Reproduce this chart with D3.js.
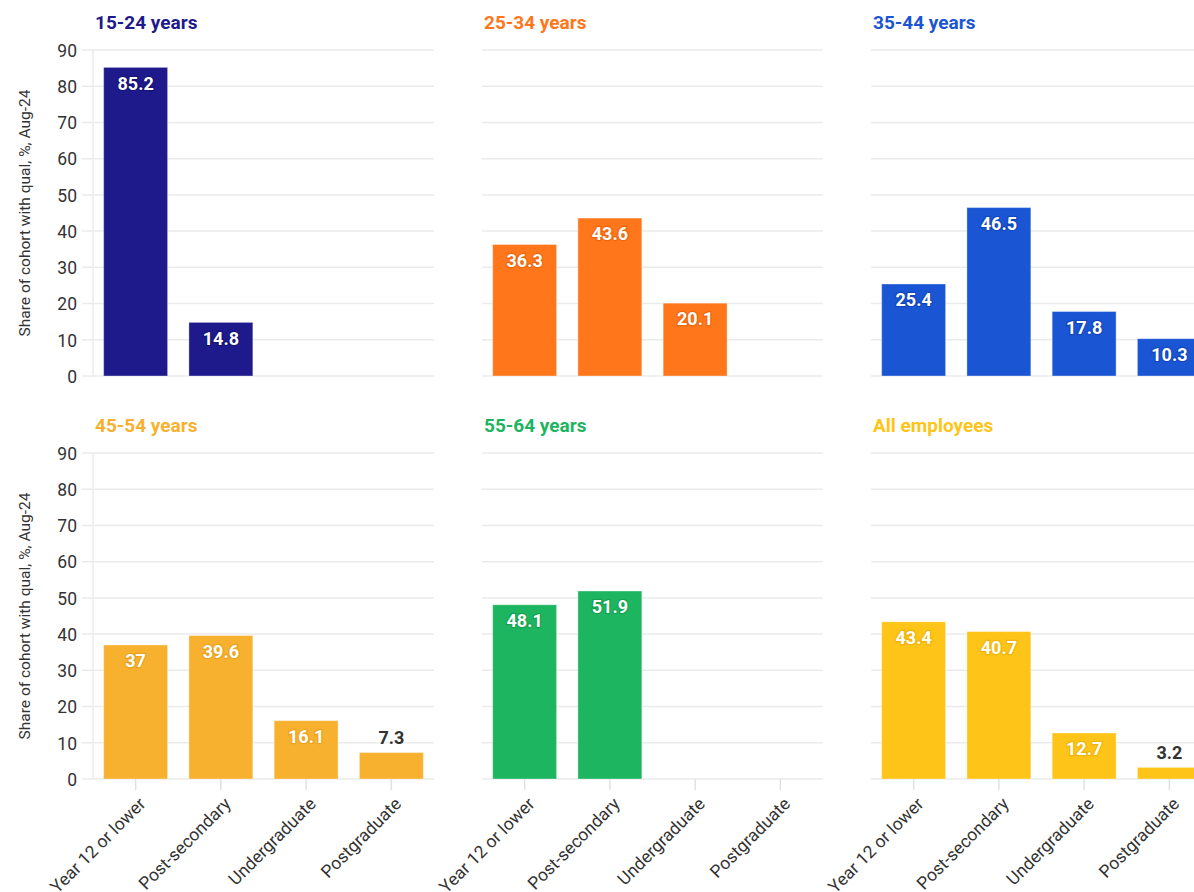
<!DOCTYPE html>
<html>
<head>
<meta charset="utf-8">
<script src="https://cdn.jsdelivr.net/npm/d3@7"></script>
<style>
  html, body { margin: 0; padding: 0; background: #fff; }
  svg { display: block; font-family: Roboto, "Noto Sans", sans-serif; }
</style>
</head>
<body>
<svg id="chart" width="1194" height="892"></svg>
<script>
const categories = ["Year 12 or lower", "Post-secondary", "Undergraduate", "Postgraduate"];
const cohorts = ["15-24 years", "25-34 years", "35-44 years", "45-54 years", "55-64 years", "All employees"];
const values15to24 = [85.2, 14.8, null, null];
const values25to34 = [36.3, 43.6, 20.1, null];
const values35to44 = [25.4, 46.5, 17.8, 10.3];
const values45to54 = [37, 39.6, 16.1, 7.3];
const values55to64 = [48.1, 51.9, null, null];
const valuesAll = [43.4, 40.7, 12.7, 3.2];
const yTicks = [0, 10, 20, 30, 40, 50, 60, 70, 80, 90];
const yAxisTitle = "Share of cohort with qual, %, Aug-24";

const seriesValues = [values15to24, values25to34, values35to44, values45to54, values55to64, valuesAll];
const colors = ["#1e1a8b", "#ff761b", "#1a55d3", "#f7b12f", "#1db55f", "#fec417"];
const haloColors = ["#13106a", "#e55e05", "#0f3fae", "#e09a18", "#139648", "#e8aa00"];

const svg = d3.select("#chart");
const panelW = 341, panelH = 326;
const colX = [93, 482, 871];
const rowY = [50, 453];

const x = d3.scaleBand().domain(categories).range([0, panelW]).paddingInner(0.25).paddingOuter(0.125);
const y = d3.scaleLinear().domain([0, 90]).range([panelH, 0]);

cohorts.forEach((name, i) => {
  const col = i % 3, row = Math.floor(i / 3);
  const g = svg.append("g").attr("transform", `translate(${colX[col]},${rowY[row]})`);
  const vals = seriesValues[i];
  const data = categories.map((c, j) => ({ c, v: vals[j] })).filter(d => d.v != null);

  // gridlines
  g.append("g").selectAll("line").data(yTicks).join("line")
    .attr("x1", col === 0 ? -11 : 0).attr("x2", panelW)
    .attr("y1", d => y(d)).attr("y2", d => y(d))
    .attr("stroke", "#ebebeb").attr("stroke-width", 1.5);

  if (col === 0) {
    g.append("line").attr("x1", 0).attr("x2", 0).attr("y1", 0).attr("y2", panelH)
      .attr("stroke", "#ebebeb").attr("stroke-width", 1.5);
    const ya = g.append("g").attr("transform", "translate(-16,0)")
      .call(d3.axisLeft(y).tickValues(yTicks).tickSize(0).tickPadding(0));
    ya.select(".domain").remove();
    ya.selectAll("text").attr("fill", "#333").style("font-size", "17.5px")
      .style("font-family", "Roboto, sans-serif").attr("dy", "0.36em");
    g.append("text")
      .attr("transform", `translate(${25 - colX[0]},${panelH / 2}) rotate(-90)`)
      .attr("text-anchor", "middle").attr("dy", "0.35em")
      .attr("fill", "#333").style("font-size", "15.5px").text(yAxisTitle);
  }

  // title
  g.append("text").attr("x", 2).attr("y", row === 0 ? -21.5 : -21)
    .attr("fill", colors[i]).style("font-size", "19px").style("font-weight", "700")
    .text(name);

  // bars
  g.append("g").selectAll("rect").data(data).join("rect")
    .attr("x", d => x(d.c)).attr("width", x.bandwidth())
    .attr("y", d => y(d.v)).attr("height", d => panelH - y(d.v))
    .attr("fill", colors[i])
    .attr("stroke", "rgba(255,255,255,0.35)").attr("stroke-width", 1);

  // labels
  g.append("g").selectAll("text").data(data).join("text")
    .attr("x", d => x(d.c) + x.bandwidth() / 2)
    .attr("y", d => d.v >= 10 ? y(d.v) + 16 : y(d.v) - 15)
    .attr("dy", "0.35em").attr("text-anchor", "middle")
    .style("font-size", "18px").style("font-weight", "700")
    .attr("fill", d => d.v >= 10 ? "#fff" : "#333")
    .attr("stroke", d => d.v >= 10 ? haloColors[i] : "#fff")
    .attr("stroke-width", 2.5).attr("stroke-opacity", 0.6)
    .style("paint-order", "stroke")
    .text(d => String(d.v));

  // x axis for bottom row
  if (row === 1) {
    const xa = g.append("g").attr("transform", `translate(0,${panelH})`)
      .call(d3.axisBottom(x).tickSize(11).tickPadding(0));
    xa.select(".domain").remove();
    xa.selectAll(".tick line").attr("stroke", "#e0e0e0").attr("stroke-width", 1.5);
    xa.selectAll("text")
      .attr("text-anchor", "end").attr("fill", "#333")
      .style("font-size", "17.5px").style("font-family", "Roboto, sans-serif")
      .attr("y", 0).attr("dy", 0)
      .attr("transform", "translate(11,26) rotate(-45)");
  }
});
</script>
</body>
</html>
